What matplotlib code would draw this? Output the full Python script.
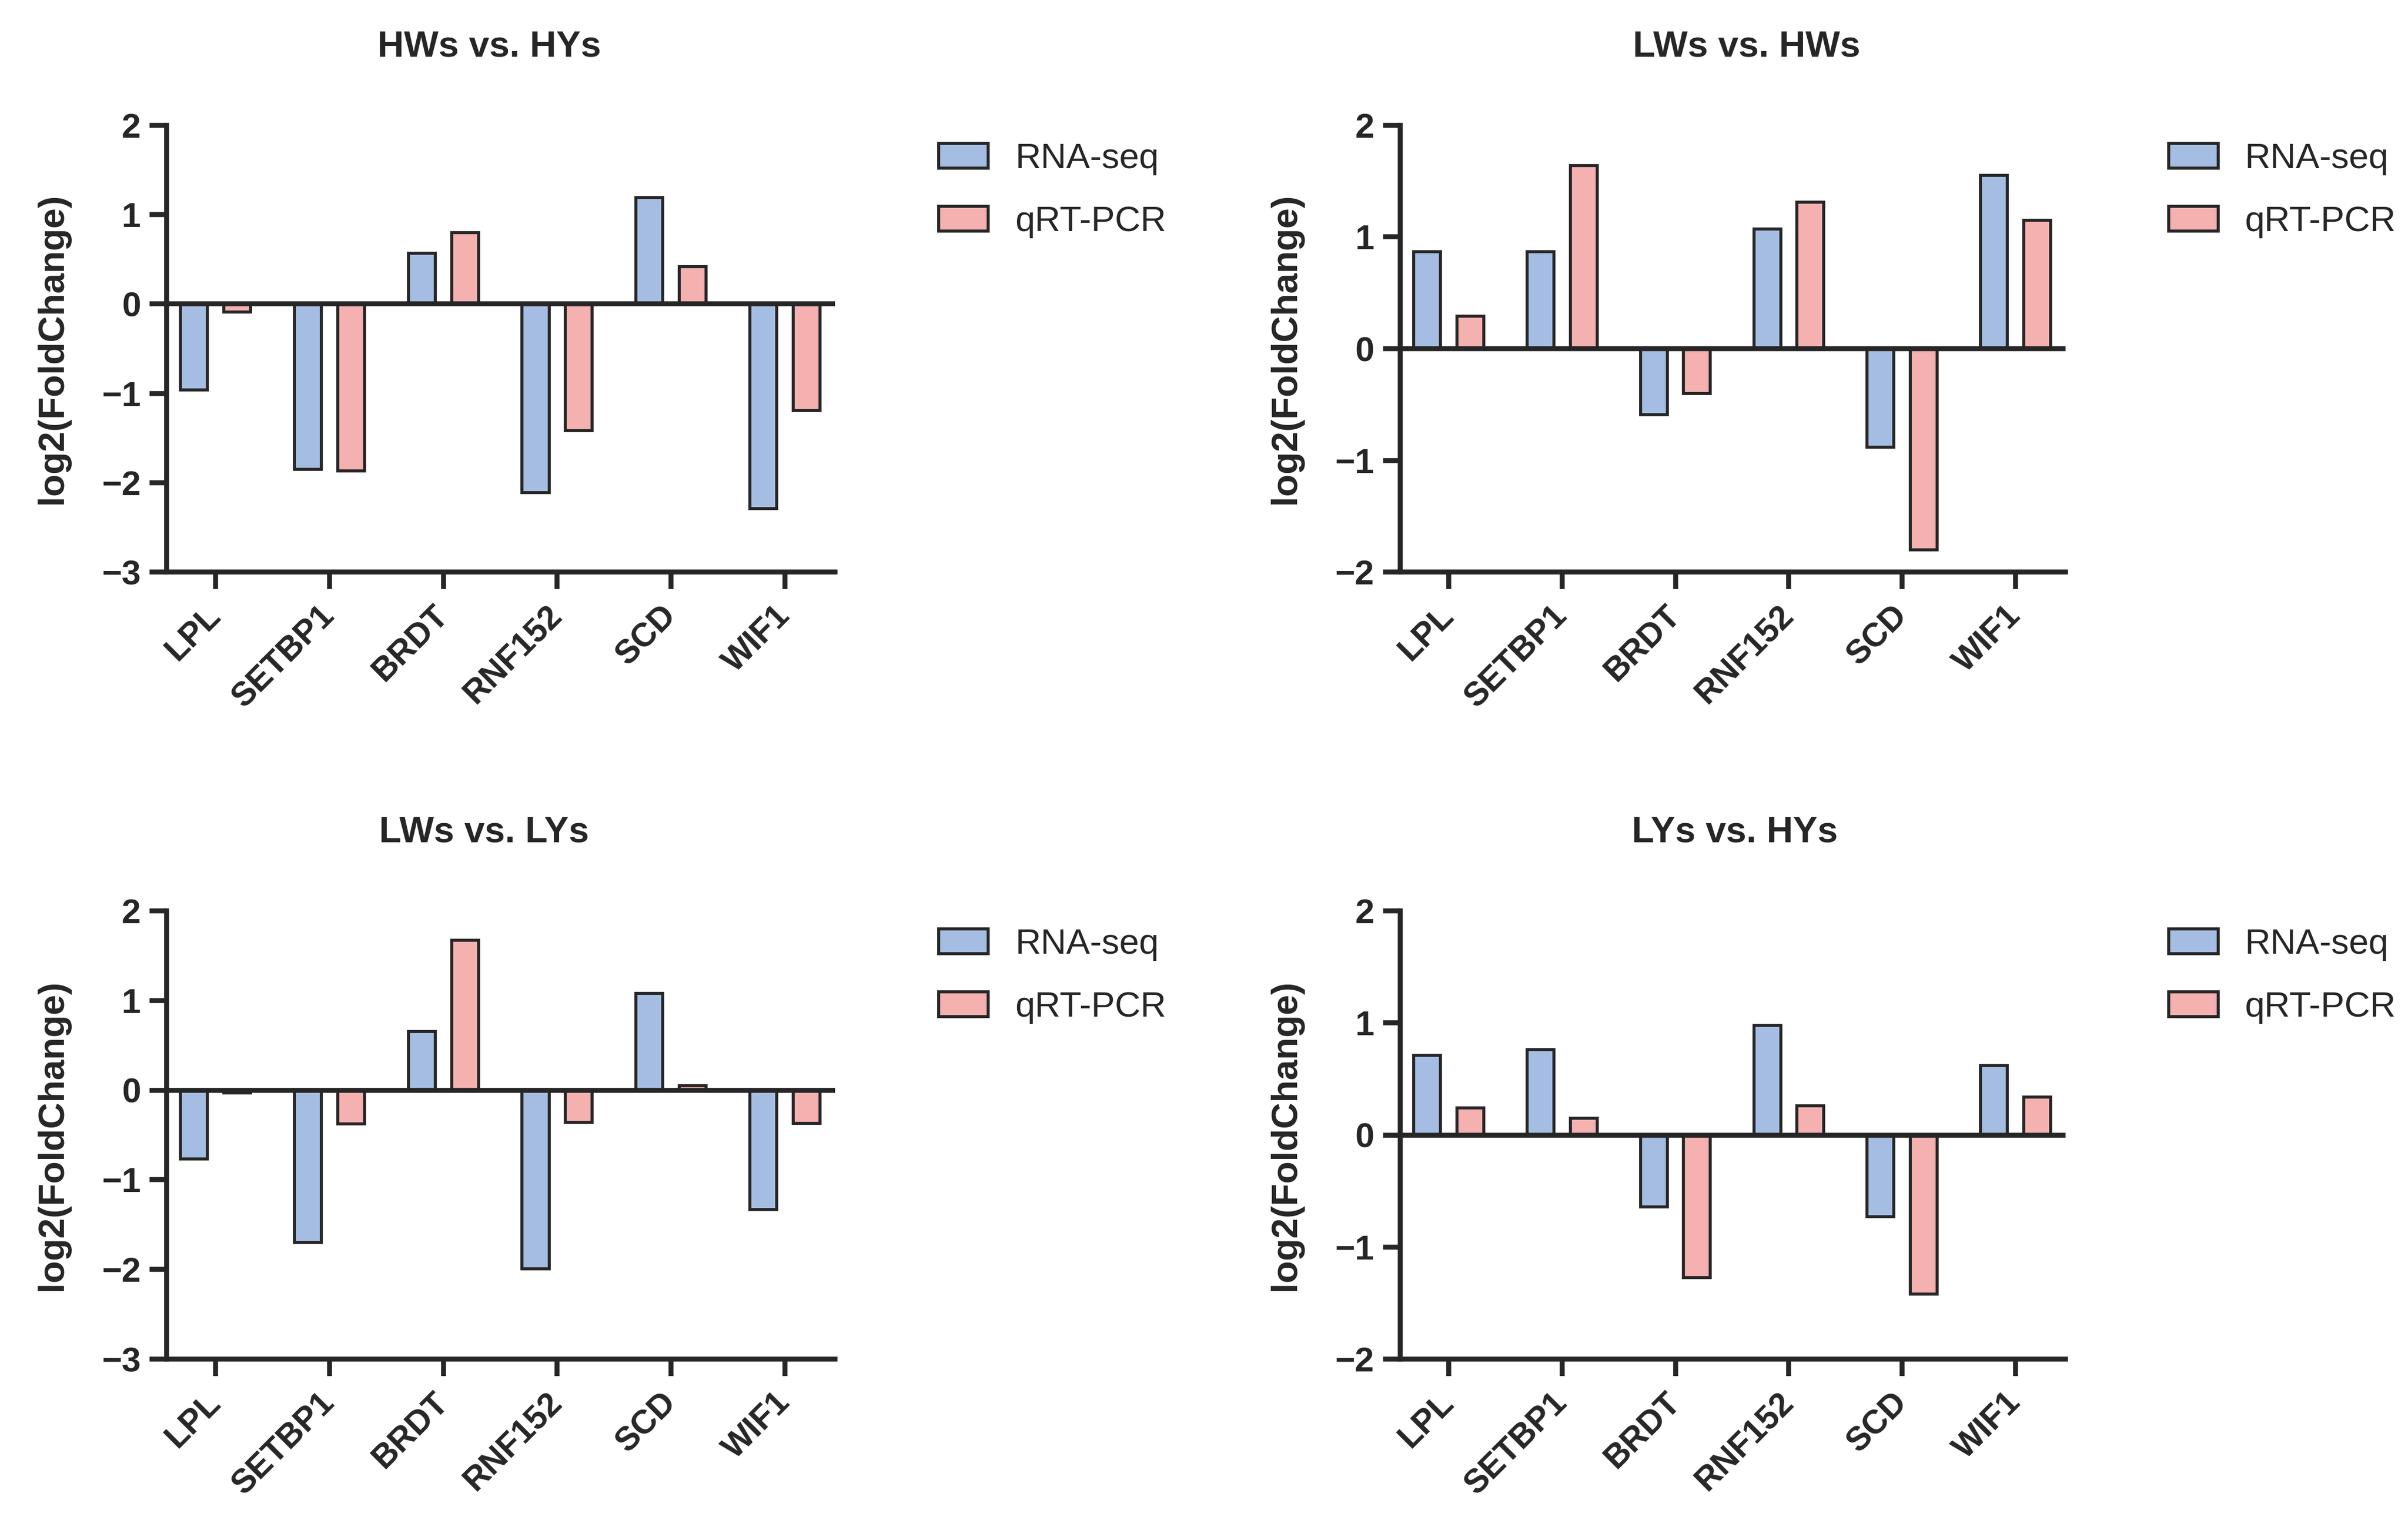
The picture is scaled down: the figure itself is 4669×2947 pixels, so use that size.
import numpy as np
import matplotlib
matplotlib.use("Agg")
import matplotlib.pyplot as plt

# =========================
# DATOS
# =========================
genes = ["LPL", "SETBP1", "BRDT", "RNF152", "SCD", "WIF1"]
titulos = ["HWs vs. HYs", "LWs vs. HWs", "LWs vs. LYs", "LYs vs. HYs"]

rna_hw_hy = [-0.96, -1.85, 0.57, -2.11, 1.19, -2.29]
pcr_hw_hy = [-0.09, -1.87, 0.80, -1.42, 0.42, -1.19]

rna_lw_hw = [0.87, 0.87, -0.59, 1.07, -0.88, 1.55]
pcr_lw_hw = [0.29, 1.64, -0.40, 1.31, -1.80, 1.15]

rna_lw_ly = [-0.77, -1.70, 0.655, -1.99, 1.08, -1.33]
pcr_lw_ly = [-0.03, -0.375, 1.67, -0.36, 0.05, -0.37]

rna_ly_hy = [0.71, 0.76, -0.64, 0.98, -0.73, 0.62]
pcr_ly_hy = [0.24, 0.15, -1.27, 0.26, -1.42, 0.34]

ylims = [(-3, 2), (-2, 2), (-3, 2), (-2, 2)]

AZUL = "#a5bde2"
ROSA = "#f5b0b0"
NEGRO = "#262626"

plt.rcParams["font.family"] = ["Liberation Sans", "DejaVu Sans"]
plt.rcParams["text.color"] = NEGRO
plt.rcParams["axes.labelcolor"] = NEGRO
plt.rcParams["xtick.color"] = NEGRO
plt.rcParams["ytick.color"] = NEGRO

fig = plt.figure(figsize=(4669 / 300, 2947 / 300), dpi=300)

posiciones = [
    [0.0692, 0.6236, 0.2776, 0.2940],
    [0.5814, 0.6236, 0.2763, 0.2940],
    [0.0692, 0.1058, 0.2776, 0.2950],
    [0.5814, 0.1058, 0.2763, 0.2950],
]
titulo_x = [0.483, 0.521, 0.475, 0.503]
series = [
    (rna_hw_hy, pcr_hw_hy),
    (rna_lw_hw, pcr_lw_hw),
    (rna_lw_ly, pcr_lw_ly),
    (rna_ly_hy, pcr_ly_hy),
]

x = np.arange(len(genes))
ancho = 0.236
desp = 0.19

for pos, (rna, pcr), titulo, tx, lim in zip(posiciones, series, titulos, titulo_x, ylims):
    ax = fig.add_axes(pos)
    ax.bar(x - desp, rna, ancho, color=AZUL, edgecolor=NEGRO, linewidth=1.4,
           label="RNA-seq", zorder=2)
    ax.bar(x + desp, pcr, ancho, color=ROSA, edgecolor=NEGRO, linewidth=1.4,
           label="qRT-PCR", zorder=2)
    ax.axhline(0, color=NEGRO, linewidth=2.3, zorder=3)

    ax.set_xlim(-0.43, 5.44)
    ax.set_ylim(*lim)
    ax.set_yticks(range(lim[0], lim[1] + 1))
    ax.set_xticks(x)
    ax.set_xticklabels(genes, rotation=45, ha="right", va="center",
                       rotation_mode="anchor", fontsize=15.5, fontweight="bold")
    for t in ax.get_yticklabels():
        t.set_fontsize(16)
        t.set_fontweight("bold")

    for lado in ["top", "right"]:
        ax.spines[lado].set_visible(False)
    for lado in ["left", "bottom"]:
        ax.spines[lado].set_linewidth(2.3)
        ax.spines[lado].set_color(NEGRO)
    ax.tick_params(axis="both", length=8, width=2.3, pad=4)
    ax.tick_params(axis="x", pad=10)

    ax.set_ylabel("log2(FoldChange)", fontsize=17, fontweight="bold", labelpad=15)
    ax.set_title(titulo, fontsize=17, fontweight="bold", pad=32, x=tx)

    ax.legend(loc="upper left", bbox_to_anchor=(1.155, 0.962), frameon=False,
              fontsize=16.5, handlelength=1.4, handleheight=0.7,
              handletextpad=0.75, labelspacing=0.85, borderpad=0,
              borderaxespad=0)

fig.savefig("out.png", dpi=300)
plt.close()
